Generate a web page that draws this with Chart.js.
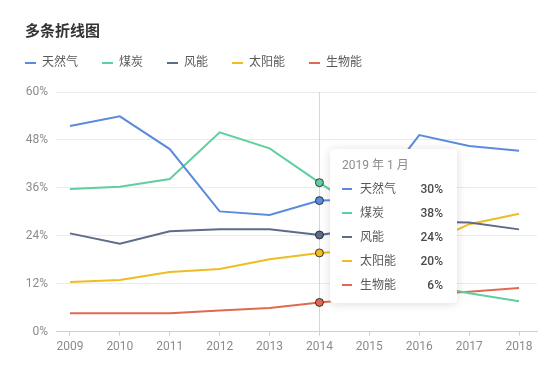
<!DOCTYPE html>
<html lang="zh">

<head>
  <meta charset="UTF-8">
  <title>多条折线图</title>
  <script src="https://cdn.jsdelivr.net/npm/chart.js"></script>
  <style>
    body { margin: 0; background: #fff; font-family: Roboto, 'Noto Sans CJK SC', sans-serif; }
    #wrap { position: relative; width: 560px; height: 376px; }
    #title { position: absolute; left: 25px; top: 20px; font-size: 15px; font-weight: 600; color: #333; line-height: 22px; }
    #tip { position: absolute; width: 127px; height: 154px; background: #fff; border-radius: 4px;
      box-shadow: 0 1px 10px rgba(0, 0, 0, 0.14); font-size: 12px; display: none; }
    #tip .head { position: absolute; left: 12px; top: 4px; line-height: 24px; color: #8c8c8c; }
    #tip .row { position: absolute; left: 12px; right: 14px; height: 24px; line-height: 24px; color: #595959; }
    #tip .mark { position: absolute; left: 0; top: 11px; width: 10px; height: 2px; }
    #tip .name { position: absolute; left: 18px; }
    #tip .val { position: absolute; right: 0; color: #4a4a4a; font-weight: 500; }
  </style>
</head>

<body>
  <div id="wrap">
    <canvas id="lineChart" width="560" height="376"></canvas>
    <div id="title">多条折线图</div>
    <div id="tip"></div>
  </div>

  <script>
    // chart data (percent)
    const years = [2009, 2010, 2011, 2012, 2013, 2014, 2015, 2016, 2017, 2018];
    const seriesNames = ['天然气', '煤炭', '风能', '太阳能', '生物能'];
    const naturalGas = [51.5, 53.9, 45.7, 30.1, 29.2, 32.8, 33, 49.2, 46.5, 45.3];
    const coal = [35.7, 36.3, 38.2, 49.9, 45.9, 37.3, 29, 12, 9.6, 7.6];
    const wind = [24.6, 22.0, 25.1, 25.6, 25.6, 24.2, 26, 27.5, 27.3, 25.6];
    const solar = [12.4, 12.9, 14.9, 15.7, 18.1, 19.7, 20.5, 21, 26.9, 29.5];
    const biomass = [4.6, 4.6, 4.6, 5.3, 5.9, 7.3, 8.5, 9.3, 10.0, 10.9];
    const yTicks = [0, 12, 24, 36, 48, 60];

    // tooltip shown in the picture
    const tooltipYear = 2014;
    const tooltipTitle = '2019 年 1 月';
    const tooltipValues = [30, 38, 24, 20, 6];

    const colors = ['#5b8bdc', '#5fcfa0', '#5d6c89', '#efbd22', '#df6a50'];
    const allValues = [naturalGas, coal, wind, solar, biomass];

    Chart.defaults.font.family = "Roboto, 'Noto Sans CJK SC', sans-serif";
    Chart.defaults.font.size = 12;

    // make room between legend and plot
    const legendSpacer = {
      id: 'legendSpacer',
      beforeInit(chart) {
        const fit = chart.legend.fit;
        chart.legend.fit = function () {
          fit.call(this);
          this.height = 59;
        };
      }
    };

    // vertical guide line at the hovered year
    const crosshair = {
      id: 'crosshair',
      beforeDatasetsDraw(chart) {
        const active = chart.getActiveElements();
        if (!active.length) return;
        const x = active[0].element.x;
        const { top, bottom } = chart.chartArea;
        const ctx = chart.ctx;
        ctx.save();
        ctx.strokeStyle = '#d6d6d6';
        ctx.lineWidth = 1;
        ctx.beginPath();
        ctx.moveTo(Math.round(x) + 0.5, top);
        ctx.lineTo(Math.round(x) + 0.5, bottom);
        ctx.stroke();
        ctx.restore();
      }
    };

    function renderTooltip(context) {
      const tip = document.getElementById('tip');
      const model = context.tooltip;
      if (model.opacity === 0 || !model.dataPoints || !model.dataPoints.length) {
        tip.style.display = 'none';
        return;
      }
      let html = '<div class="head">' + tooltipTitle + '</div>';
      model.dataPoints.forEach((p, i) => {
        const k = p.datasetIndex;
        html += '<div class="row" style="top:' + (28 + i * 24) + 'px">' +
          '<span class="mark" style="background:' + colors[k] + '"></span>' +
          '<span class="name">' + seriesNames[k] + '</span>' +
          '<span class="val">' + tooltipValues[k] + '%</span></div>';
      });
      tip.innerHTML = html;
      const x = context.chart.scales.x.getPixelForValue(tooltipYear);
      tip.style.left = Math.round(x + 11) + 'px';
      tip.style.top = (context.chart.chartArea.top + 57) + 'px';
      tip.style.display = 'block';
    }

    const datasets = seriesNames.map((name, i) => ({
      label: name,
      data: years.map((y, j) => ({ x: y, y: allValues[i][j] })),
      borderColor: colors[i],
      backgroundColor: colors[i],
      borderWidth: 2,
      pointRadius: 0,
      pointHoverRadius: 4,
      pointHoverBorderWidth: 1,
      pointHoverBorderColor: 'rgba(30, 30, 30, 0.85)',
      pointHoverBackgroundColor: colors[i],
      tension: 0
    }));

    const ctx = document.getElementById('lineChart').getContext('2d');
    const lineChart = new Chart(ctx, {
      type: 'line',
      data: { datasets },
      options: {
        responsive: false,
        animation: false,
        events: [],
        layout: { padding: { left: 1, right: 23, top: 33, bottom: 18 } },
        scales: {
          x: {
            type: 'linear',
            min: 2008.72,
            max: 2018.36,
            ticks: {
              stepSize: 1,
              includeBounds: false,
              color: '#8c8c8c',
              padding: 4,
              maxRotation: 0,
              callback: v => String(v)
            },
            grid: { drawOnChartArea: false, drawTicks: true, tickLength: 4, color: '#cfcfcf' },
            border: { display: true, color: '#cfcfcf' }
          },
          y: {
            min: 0,
            max: 60,
            afterBuildTicks: scale => { scale.ticks = yTicks.map(v => ({ value: v })); },
            afterFit: scale => { scale.width = 55; },
            ticks: { color: '#8c8c8c', padding: 8, callback: v => v + '%' },
            grid: { color: '#ebebeb', drawTicks: false },
            border: { display: false }
          }
        },
        plugins: {
          legend: {
            align: 'start',
            labels: {
              usePointStyle: true,
              pointStyle: 'line',
              pointStyleWidth: 11,
              padding: 24,
              color: '#595959',
              font: { size: 12 }
            }
          },
          tooltip: { enabled: false, external: renderTooltip }
        }
      },
      plugins: [legendSpacer, crosshair]
    });

    // show the hovered state for one year
    const idx = years.indexOf(tooltipYear);
    const active = datasets.map((_, i) => ({ datasetIndex: i, index: idx }));
    lineChart.setActiveElements(active);
    lineChart.tooltip.setActiveElements(active, { x: 0, y: 0 });
    lineChart.update();
  </script>
</body>

</html>
